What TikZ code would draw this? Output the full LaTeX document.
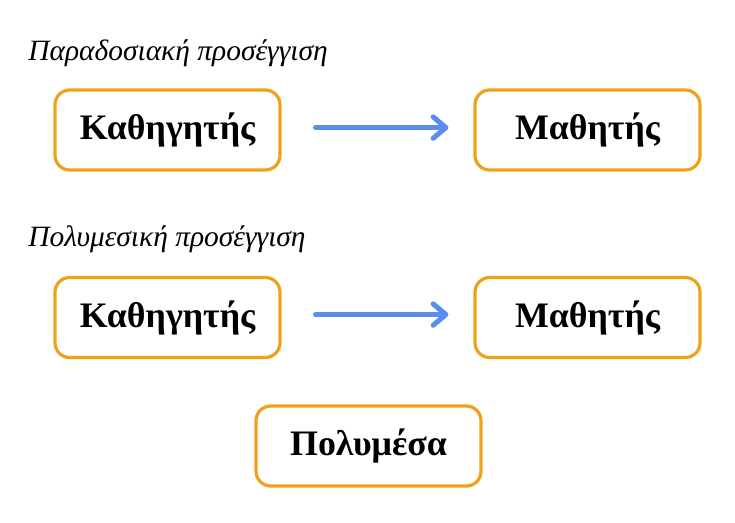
\documentclass[tikz,border=0pt]{standalone}
\usepackage{fontspec}
\setmainfont{Liberation Serif}
\usepackage{xcolor}
\usetikzlibrary{arrows.meta, positioning}
\definecolor{boxorange}{HTML}{EEA21A}
\definecolor{arrowblue}{HTML}{5B8DEE}

\begin{document}
\begin{tikzpicture}[x=0.75pt, y=-0.75pt,
    box/.style={draw=boxorange, line width=2.4pt, rounded corners=11pt,
        minimum width=168.75pt, minimum height=60pt,
        font=\fontsize{26.9}{30}\selectfont\bfseries},
    title/.style={anchor=base west, inner sep=0pt,
        font=\fontsize{22.1}{26}\selectfont\itshape},
    flow/.style={draw=arrowblue, line width=3.8pt, line cap=round,
        -{Straight Barb[length=9.5pt, width=16pt, round]},
        shorten <=25.5pt, shorten >=18.75pt}]
    \useasboundingbox (0, 0) rectangle (735, 522);

    % first row
    \node[title] (trad) at (28, 60) {Παραδοσιακή προσέγγιση};
    \node[box] (teacherA) at (167.5, 130) {Καθηγητής};
    \node[box] (studentA) at (587.5, 130) {Μαθητής};

    % second row
    \node[title] (multi) at (28, 246) {Πολυμεσική προσέγγιση};
    \node[box] (teacherB) at (167.5, 317.5) {Καθηγητής};
    \node[box] (studentB) at (587.5, 317.5) {Μαθητής};
    \node[box] (media) at (368.5, 446) {Πολυμέσα};

    \draw[flow] ([yshift=1.8pt]teacherA.east) -- ([yshift=1.8pt]studentA.west);
    \draw[flow] ([yshift=2.2pt]teacherB.east) -- ([yshift=2.2pt]studentB.west);
\end{tikzpicture}
\end{document}
